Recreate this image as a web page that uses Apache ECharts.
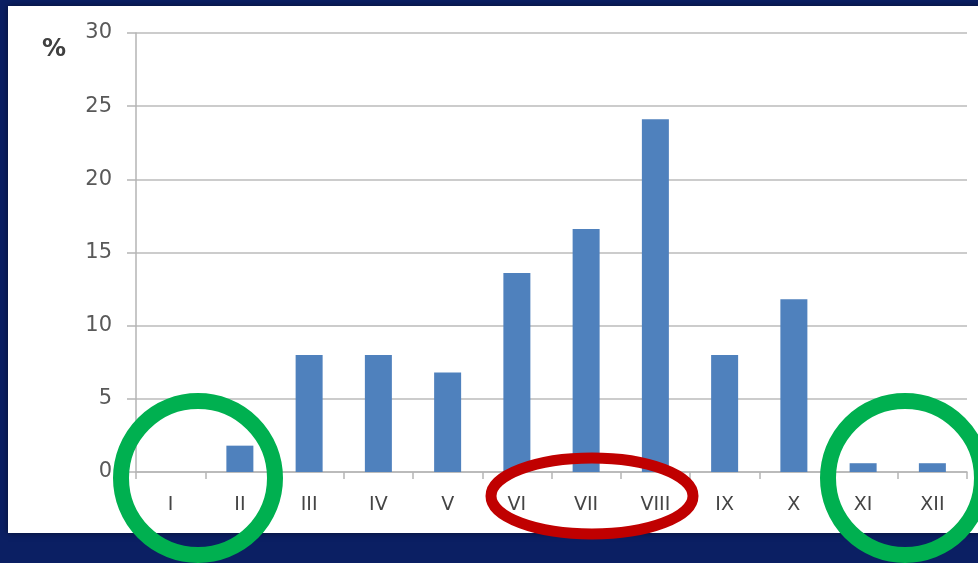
<!DOCTYPE html>
<html>
<head>
<meta charset="utf-8">
<script src="https://cdn.jsdelivr.net/npm/echarts@6/dist/echarts.min.js"></script>
<style>
  html, body { margin: 0; padding: 0; background: #0b1f63; }
  #chart { width: 978px; height: 563px; }
</style>
</head>
<body>
<div id="chart"></div>
<script>
// months in roman numerals
var months = ["I", "II", "III", "IV", "V", "VI", "VII", "VIII", "IX", "X", "XI", "XII"]
var percent = [0, 1.8, 8, 8, 6.8, 13.6, 16.6, 24.1, 8, 11.8, 0.6, 0.6]
var yTicks = [0, 5, 10, 15, 20, 25, 30]

var myChart = echarts.init(document.getElementById("chart"))
myChart.setOption({
  backgroundColor: "#0b1f63",
  animation: false,
  grid: {
    left: 136,
    right: 11,
    top: 33,
    bottom: 91
  },
  xAxis: {
    type: "category",
    data: months,
    boundaryGap: true,
    axisLine: { lineStyle: { color: "#b5b5b5", width: 1.5 } },
    axisTick: { show: true, length: 7, lineStyle: { color: "#b5b5b5", width: 1.5 } },
    axisLabel: {
      margin: 24,
      color: "#454545",
      fontSize: 19,
      fontFamily: "DejaVu Sans"
    }
  },
  yAxis: {
    type: "value",
    min: yTicks[0],
    max: yTicks[yTicks.length - 1],
    interval: 5,
    axisLine: { show: true, lineStyle: { color: "#b5b5b5", width: 1.5 } },
    axisTick: { show: true, length: 9, lineStyle: { color: "#b5b5b5", width: 1.5 } },
    splitLine: { lineStyle: { color: "#cccccc", width: 2 } },
    axisLabel: {
      margin: 24,
      padding: [4, 0, 0, 0],
      color: "#595959",
      fontSize: 21,
      fontFamily: "DejaVu Sans"
    }
  },
  graphic: [
    {
      // white panel
      type: "rect",
      z: -10,
      shape: { x: 8, y: 6, width: 980, height: 527 },
      style: { fill: "#ffffff", shadowBlur: 6, shadowColor: "rgba(0,0,0,0.5)" }
    },
    {
      type: "text",
      z: 10,
      left: 42,
      top: 38,
      style: { text: "%", fill: "#404040", font: "bold 24px 'DejaVu Sans'" }
    },
    {
      type: "circle",
      z: 100,
      shape: { cx: 198, cy: 478, r: 77 },
      style: { fill: "none", stroke: "#00b050", lineWidth: 16 }
    },
    {
      type: "circle",
      z: 100,
      shape: { cx: 905, cy: 478, r: 77 },
      style: { fill: "none", stroke: "#00b050", lineWidth: 16 }
    },
    {
      type: "ellipse",
      z: 100,
      shape: { cx: 592, cy: 496, rx: 101, ry: 38 },
      style: { fill: "none", stroke: "#c00000", lineWidth: 11 }
    }
  ],
  series: [
    {
      type: "bar",
      data: percent,
      barWidth: 27,
      itemStyle: { color: "#4f81bd" }
    }
  ]
})
</script>
</body>
</html>
